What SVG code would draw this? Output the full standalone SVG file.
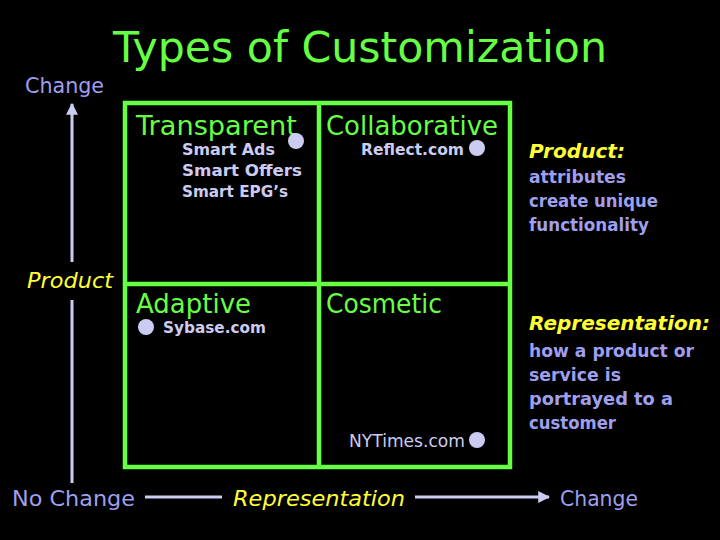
<svg xmlns="http://www.w3.org/2000/svg" width="720" height="540" viewBox="0 0 720 540">
<defs>
<style>
text{font-family:"DejaVu Sans","Liberation Sans",sans-serif}
.g{fill:#66ff44}
.y{fill:#ffff33;font-style:italic}
.l{fill:#ccccf2;font-weight:bold}
.n{fill:#ccccf2}
.b{fill:#9f9fee}
.bb{fill:#9f9fee;font-weight:bold}
.dot{fill:#ccccf2}
.cell{fill:none;stroke:#66ff44;stroke-width:4.5}
.ax{stroke:#ccccf2;stroke-width:3;fill:none}
</style>
<marker id="ah" viewBox="0 0 10 10" refX="9" refY="5" markerWidth="4" markerHeight="4" orient="auto" markerUnits="strokeWidth">
<path d="M0,0 L10,5 L0,10 z" fill="#ccccf2"/>
</marker>
</defs>
<rect width="720" height="540" fill="#000"/>
<text id="title" class="g" x="113" y="62" font-size="42" textLength="494" lengthAdjust="spacingAndGlyphs">Types of Customization</text>
<g id="grid">
<rect class="cell" x="125" y="103" width="385" height="364"/>
<line class="cell" x1="319" y1="103" x2="319" y2="467"/>
<line class="cell" x1="125" y1="284" x2="510" y2="284"/>
</g>
<g id="transparent">
<text class="g" x="136" y="135" font-size="26" textLength="161" lengthAdjust="spacingAndGlyphs">Transparent</text>
<circle class="dot" cx="296" cy="141" r="8"/>
<text class="l" x="182" y="155" font-size="16" textLength="93" lengthAdjust="spacingAndGlyphs">Smart Ads</text>
<text class="l" x="182" y="176" font-size="16" textLength="120" lengthAdjust="spacingAndGlyphs">Smart Offers</text>
<text class="l" x="182" y="197" font-size="16" textLength="106" lengthAdjust="spacingAndGlyphs">Smart EPG’s</text>
</g>
<g id="collaborative">
<text class="g" x="326" y="135" font-size="26" textLength="172" lengthAdjust="spacingAndGlyphs">Collaborative</text>
<text class="l" x="361" y="155" font-size="16" textLength="103" lengthAdjust="spacingAndGlyphs">Reflect.com</text>
<circle class="dot" cx="477" cy="148" r="8"/>
</g>
<g id="adaptive">
<text class="g" x="136" y="313" font-size="26" textLength="115" lengthAdjust="spacingAndGlyphs">Adaptive</text>
<circle class="dot" cx="146" cy="327" r="8"/>
<text class="l" x="163" y="333" font-size="16" textLength="103" lengthAdjust="spacingAndGlyphs">Sybase.com</text>
</g>
<g id="cosmetic">
<text class="g" x="326" y="313" font-size="26" textLength="116" lengthAdjust="spacingAndGlyphs">Cosmetic</text>
<text class="n" x="349" y="447" font-size="17" textLength="116" lengthAdjust="spacingAndGlyphs">NYTimes.com</text>
<circle class="dot" cx="477" cy="440" r="8"/>
</g>
<g id="axes">
<line class="ax" x1="72" y1="262" x2="72" y2="104" marker-end="url(#ah)"/>
<line class="ax" x1="72" y1="300" x2="72" y2="483"/>
<line class="ax" x1="145" y1="497" x2="222" y2="497"/>
<line class="ax" x1="415" y1="497" x2="549" y2="497" marker-end="url(#ah)"/>
</g>
<g id="labels">
<text class="b" x="25" y="93" font-size="22" textLength="79" lengthAdjust="spacingAndGlyphs">Change</text>
<text class="y" x="27" y="288" font-size="21" textLength="86" lengthAdjust="spacingAndGlyphs">Product</text>
<text class="b" x="12" y="506" font-size="22" textLength="123" lengthAdjust="spacingAndGlyphs">No Change</text>
<text class="y" x="233" y="506" font-size="22" textLength="172" lengthAdjust="spacingAndGlyphs">Representation</text>
<text class="b" x="560" y="506" font-size="22" textLength="78" lengthAdjust="spacingAndGlyphs">Change</text>
</g>
<g id="legend">
<text class="y" x="529" y="158" font-size="20" font-weight="bold" textLength="96" lengthAdjust="spacingAndGlyphs">Product:</text>
<text class="bb" x="529" y="183" font-size="17" textLength="97" lengthAdjust="spacingAndGlyphs">attributes</text>
<text class="bb" x="529" y="207" font-size="17" textLength="129" lengthAdjust="spacingAndGlyphs">create unique</text>
<text class="bb" x="529" y="231" font-size="17" textLength="120" lengthAdjust="spacingAndGlyphs">functionality</text>
<text class="y" x="529" y="330" font-size="20" font-weight="bold" textLength="181" lengthAdjust="spacingAndGlyphs">Representation:</text>
<text class="bb" x="529" y="357" font-size="17" textLength="165" lengthAdjust="spacingAndGlyphs">how a product or</text>
<text class="bb" x="529" y="381" font-size="17" textLength="92" lengthAdjust="spacingAndGlyphs">service is</text>
<text class="bb" x="529" y="405" font-size="17" textLength="144" lengthAdjust="spacingAndGlyphs">portrayed to a</text>
<text class="bb" x="529" y="429" font-size="17" textLength="87" lengthAdjust="spacingAndGlyphs">customer</text>
</g>
</svg>
